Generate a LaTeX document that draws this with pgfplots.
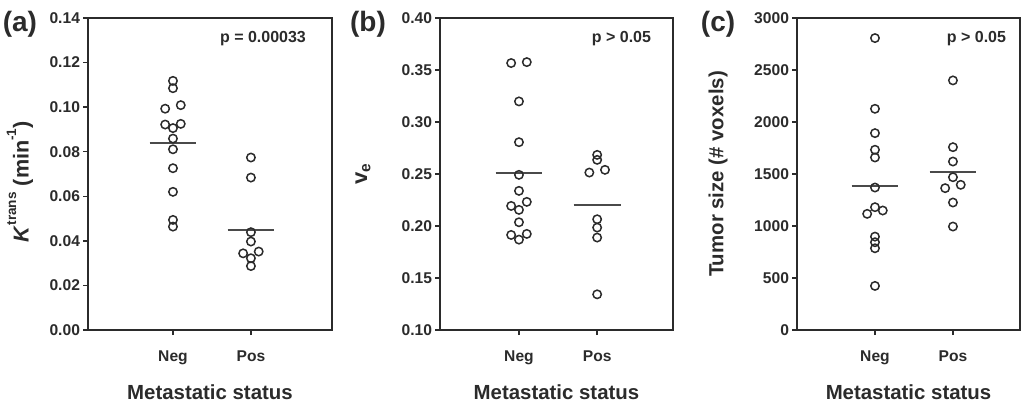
\documentclass[border=0pt]{standalone}
\usepackage{fontspec}
\setmainfont{Liberation Sans}
\usepackage{pgfplots}
\pgfplotsset{compat=1.18}
\definecolor{ink}{HTML}{2B2B2B}
\definecolor{meanline}{HTML}{4A4A4A}

\tikzset{
  pval/.style={anchor=east, font=\fontsize{8}{9}\selectfont\bfseries, text=ink},
  tag/.style={anchor=center, font=\fontsize{14}{16}\selectfont\bfseries, text=ink},
}
\pgfplotsset{
  panel/.style={
    scale only axis,
    height=156pt,
    axis line style={ink, line width=1pt},
    tick style={ink, line width=0.7pt},
    tick align=outside,
    major tick length=2.5pt,
    xtick pos=bottom, ytick pos=left,
    xtick={0,1}, xticklabels={Neg,Pos},
    ticklabel style={font=\fontsize{7.8}{9}\selectfont\bfseries, text=ink},
    xticklabel style={yshift=-4.5pt},
    yticklabel style={xshift=2pt},
    /pgf/number format/assume math mode=true,
    label style={font=\fontsize{10.2}{12}\selectfont\bfseries, text=ink},
    xlabel={Metastatic status},
    xlabel style={at={(axis description cs:0.5,-0.199)}, anchor=center},
    clip=false,
  },
  dots/.style={only marks, mark=o, mark size=2.1pt, mark options={ink, line width=0.75pt}},
  mean/.style={meanline, line width=1pt, no marks},
}

\begin{document}
\begin{tikzpicture}
\path[use as bounding box] (0,0) rectangle (511pt,201.5pt);

% (a) Ktrans
\begin{axis}[panel, at={(44pt,36.5pt)}, anchor=south west, width=122pt,
  xmin=-1.09, xmax=2.04, ymin=0, ymax=0.14,
  ytick={0,0.02,...,0.14},
  yticklabel style={/pgf/number format/fixed, /pgf/number format/fixed zerofill, /pgf/number format/precision=2},
  ylabel={\fontsize{10.8}{13}\selectfont\textit{K}\raisebox{1.1ex}{\fontsize{6.8}{8}\selectfont trans} (min\raisebox{1.1ex}{\fontsize{6.8}{8}\selectfont -1})},
  ylabel style={at={(axis description cs:-0.279,0.475)}, anchor=center},
]
\addplot[dots] coordinates {(0,0.1118) (0,0.1085) (-0.1,0.0993) (0.1,0.1009) (-0.1,0.0922) (0.1,0.0925) (0,0.0906) (0,0.0859) (0,0.0811) (0,0.0726) (0,0.0620) (0,0.0494) (0,0.0464)};
\addplot[dots] coordinates {(1,0.0774) (1,0.0684) (1,0.0439) (1,0.0397) (0.9,0.0344) (1.1,0.0352) (1,0.0322) (1,0.0287)};
\addplot[mean] coordinates {(-0.3,0.0841) (0.3,0.0841)};
\addplot[mean] coordinates {(0.7,0.0449) (1.3,0.0449)};
\node[pval] at (axis description cs:0.922,0.933) {p = 0.00033};
\node[tag] at (axis description cs:-0.279,0.981) {(a)};
\end{axis}

% (b) ve
\begin{axis}[panel, at={(220pt,36.5pt)}, anchor=south west, width=116.5pt,
  xmin=-1.01, xmax=1.97, ymin=0.10, ymax=0.40,
  ytick={0.10,0.15,...,0.41},
  yticklabel style={/pgf/number format/fixed, /pgf/number format/fixed zerofill, /pgf/number format/precision=2},
  ylabel={\fontsize{11}{13}\selectfont v\textsubscript{e}},
  ylabel style={at={(axis description cs:-0.33,0.5)}, anchor=center},
]
\addplot[dots] coordinates {(-0.1,0.3567) (0.1,0.3576) (0,0.3198) (0,0.2806) (0,0.2492) (0,0.2338) (0.1,0.2232) (-0.1,0.2193) (0,0.2155) (0,0.2036) (-0.1,0.1914) (0.1,0.1924) (0,0.1869)};
\addplot[dots] coordinates {(1,0.2684) (1,0.2636) (0.9,0.2514) (1.1,0.2540) (1,0.2065) (1,0.1985) (1,0.1889) (1,0.1343)};
\addplot[mean] coordinates {(-0.3,0.2508) (0.3,0.2508)};
\addplot[mean] coordinates {(0.7,0.2206) (1.3,0.2206)};
\node[pval] at (axis description cs:0.936,0.933) {p > 0.05};
\node[tag] at (axis description cs:-0.309,0.981) {(b)};
\end{axis}

% (c) tumor size
\begin{axis}[panel, at={(398.5pt,36.5pt)}, anchor=south west, width=111.5pt,
  xmin=-1.0, xmax=1.86, ymin=0, ymax=3000,
  ytick={0,500,...,3000},
  yticklabel style={/pgf/number format/set thousands separator={}},
  ylabel={Tumor size (\# voxels)},
  ylabel style={at={(axis description cs:-0.354,0.5)}, anchor=center},
]
\addplot[dots] coordinates {(0,2807) (0,2127) (0,1893) (0,1733) (0,1659) (0,1370) (0,1181) (0.1,1149) (-0.1,1117) (0,898) (0,844) (0,786) (0,424)};
\addplot[dots] coordinates {(1,2400) (1,1758) (1,1620) (1,1469) (0.9,1364) (1.1,1396) (1,1226) (1,995)};
\addplot[mean] coordinates {(-0.3,1386) (0.3,1386)};
\addplot[mean] coordinates {(0.7,1524) (1.3,1524)};
\node[pval] at (axis description cs:0.969,0.933) {p > 0.05};
\node[tag] at (axis description cs:-0.354,0.981) {(c)};
\end{axis}
\end{tikzpicture}
\end{document}
